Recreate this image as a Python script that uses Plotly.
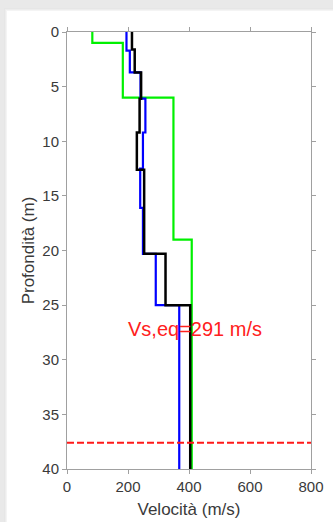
import plotly.graph_objects as go

# Layer profiles: velocity of each layer and the depth of its top (m)
green_vs = [83, 183, 349, 409]
green_top = [0, 1.0, 6.0, 19.0]

blue_vs = [195, 206, 241, 257, 249, 240, 249, 291, 368]
blue_top = [0, 1.7, 3.7, 6.1, 9.2, 12.5, 16.1, 20.3, 25.0]

black_vs = [213, 222, 243, 238, 229, 253, 323, 404]
black_top = [0, 1.6, 3.7, 6.1, 9.2, 12.6, 20.3, 25.0]

max_depth = 40
bedrock_depth = 37.6
vs_eq = 291

x_ticks = [0, 200, 400, 600, 800]
y_ticks = [0, 5, 10, 15, 20, 25, 30, 35, 40]

FONT = "Liberation Sans, Arial, sans-serif"
TXT = "#3a3a3a"
AX = "#a0a0a0"


def step_points(vs, tops):
    xs = list(vs) + [vs[-1]]
    ys = list(tops) + [max_depth]
    return xs, ys


fig = go.Figure()

for vs, tops, color, w in [
    (green_vs, green_top, "#00f000", 2.2),
    (blue_vs, blue_top, "#0000ff", 2.2),
    (black_vs, black_top, "#000000", 2.5),
]:
    xs, ys = step_points(vs, tops)
    fig.add_trace(go.Scatter(x=xs, y=ys, mode="lines", line_shape="vh",
                             line=dict(color=color, width=w),
                             showlegend=False, hoverinfo="skip"))

fig.add_trace(go.Scatter(x=[x_ticks[0], x_ticks[-1]], y=[bedrock_depth, bedrock_depth],
                         mode="lines", line=dict(color="#ff1a1a", width=2, dash="7px,3px"),
                         showlegend=False, hoverinfo="skip"))

fig.add_annotation(x=420, y=27.2, text=f"Vs,eq={vs_eq} m/s", showarrow=False,
                   font=dict(family=FONT, size=20, color="#ff2020"))

# card background with a soft shadow
shadow = ["#e6e6e6", "#ededed", "#f4f4f4"]
for i, c in enumerate(shadow):
    d = (3 - i) * 1.0
    fig.add_shape(type="rect", xref="paper", yref="paper", layer="below",
                  x0=(7 - d - 67) / 244, x1=(345 - 67) / 244,
                  y0=(469 - 540) / 437, y1=(469 - 11 + d) / 437,
                  fillcolor=c, line_width=0)
fig.add_shape(type="rect", xref="paper", yref="paper", layer="below",
              x0=(7 - 67) / 244, x1=(345 - 67) / 244,
              y0=(469 - 540) / 437, y1=(469 - 11) / 437,
              fillcolor="white", line_width=0)

axis_common = dict(showgrid=False, zeroline=False, showline=True, linecolor=AX,
                   linewidth=1, mirror="ticks", ticks="outside", ticklen=4,
                   tickcolor=AX, automargin=False,
                   tickfont=dict(family=FONT, size=15, color=TXT))

fig.update_layout(
    width=333, height=522,
    margin=dict(l=67, r=22, t=32, b=53),
    paper_bgcolor="#e9e9e9", plot_bgcolor="white",
    xaxis=dict(range=[0, 800], tickvals=x_ticks, side="bottom",
               title=dict(text="Velocità (m/s)", standoff=9,
                          font=dict(family=FONT, size=17, color=TXT)),
               **axis_common),
    yaxis=dict(range=[max_depth, 0], tickvals=y_ticks,
               title=dict(text="Profondità (m)", standoff=3,
                          font=dict(family=FONT, size=17, color=TXT)),
               **axis_common),
)

fig.write_html("out.html")
